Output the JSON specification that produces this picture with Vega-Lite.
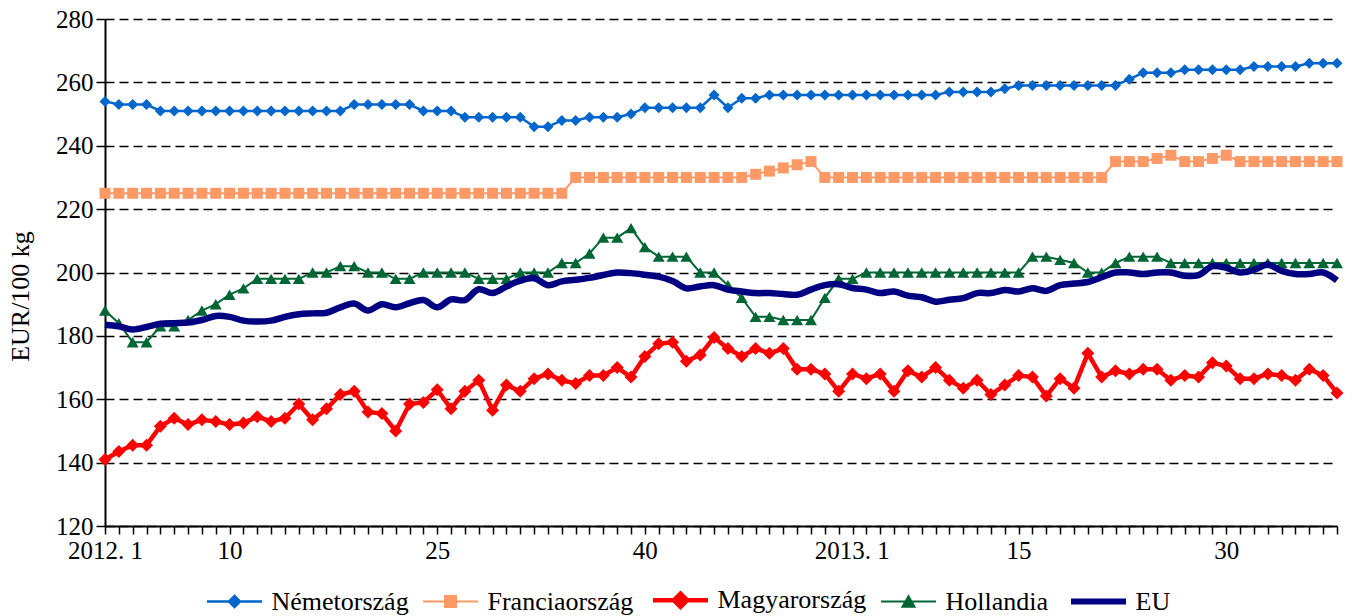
{
  "$schema": "https://vega.github.io/schema/vega-lite/v6.json",
  "autosize": {"type": "none"},
  "padding": {"left": 105, "top": 19, "right": 16, "bottom": 90},
  "width": 1232,
  "height": 507,
  "background": "#ffffff",
  "config": {
    "font": "Liberation Serif",
    "view": {"stroke": null},
    "axis": {
      "labelFont": "Liberation Serif", "labelFontSize": 25, "labelColor": "#000000",
      "titleFont": "Liberation Serif", "titleFontSize": 26, "titleFontWeight": "normal", "titleColor": "#000000",
      "domainColor": "#000000", "tickColor": "#000000"
    },
    "axisX": {"labelFont": "Liberation Serif", "labelFontSize": 25},
    "axisY": {
      "labelFont": "Liberation Serif", "labelFontSize": 25,
      "tickCount": 8, "grid": true, "gridColor": "#000000", "gridDash": [9, 5], "gridWidth": 1.5,
      "domainWidth": 2, "tickSize": 9, "tickWidth": 1.5, "labelPadding": 3, "titlePadding": 22
    }
  },
  "data": {"values": [
    {"i":0,"de":254,"fr":225,"hu":141,"nl":188,"eu":183.5},
    {"i":1,"de":253,"fr":225,"hu":143.5,"nl":184,"eu":183},
    {"i":2,"de":253,"fr":225,"hu":145.5,"nl":178,"eu":182},
    {"i":3,"de":253,"fr":225,"hu":145.5,"nl":178,"eu":182.8},
    {"i":4,"de":251,"fr":225,"hu":151.5,"nl":183,"eu":183.8},
    {"i":5,"de":251,"fr":225,"hu":154,"nl":183,"eu":184},
    {"i":6,"de":251,"fr":225,"hu":152,"nl":185,"eu":184.2},
    {"i":7,"de":251,"fr":225,"hu":153.5,"nl":188,"eu":185},
    {"i":8,"de":251,"fr":225,"hu":153,"nl":190,"eu":186.3},
    {"i":9,"de":251,"fr":225,"hu":152,"nl":193,"eu":186},
    {"i":10,"de":251,"fr":225,"hu":152.5,"nl":195,"eu":184.8},
    {"i":11,"de":251,"fr":225,"hu":154.5,"nl":198,"eu":184.5},
    {"i":12,"de":251,"fr":225,"hu":153,"nl":198,"eu":184.8},
    {"i":13,"de":251,"fr":225,"hu":154,"nl":198,"eu":186},
    {"i":14,"de":251,"fr":225,"hu":158.5,"nl":198,"eu":186.8},
    {"i":15,"de":251,"fr":225,"hu":153.5,"nl":200,"eu":187.1},
    {"i":16,"de":251,"fr":225,"hu":157,"nl":200,"eu":187.3},
    {"i":17,"de":251,"fr":225,"hu":161.5,"nl":202,"eu":189},
    {"i":18,"de":253,"fr":225,"hu":162.5,"nl":202,"eu":190.2},
    {"i":19,"de":253,"fr":225,"hu":156,"nl":200,"eu":188},
    {"i":20,"de":253,"fr":225,"hu":155.5,"nl":200,"eu":190},
    {"i":21,"de":253,"fr":225,"hu":150,"nl":198,"eu":189},
    {"i":22,"de":253,"fr":225,"hu":158.5,"nl":198,"eu":190.3},
    {"i":23,"de":251,"fr":225,"hu":159,"nl":200,"eu":191.3},
    {"i":24,"de":251,"fr":225,"hu":163,"nl":200,"eu":189},
    {"i":25,"de":251,"fr":225,"hu":157,"nl":200,"eu":191.5},
    {"i":26,"de":249,"fr":225,"hu":162.5,"nl":200,"eu":191.3},
    {"i":27,"de":249,"fr":225,"hu":166,"nl":198,"eu":194.7},
    {"i":28,"de":249,"fr":225,"hu":156.5,"nl":198,"eu":193.5},
    {"i":29,"de":249,"fr":225,"hu":164.5,"nl":198,"eu":195.6},
    {"i":30,"de":249,"fr":225,"hu":162.5,"nl":200,"eu":197.4},
    {"i":31,"de":246,"fr":225,"hu":166.5,"nl":200,"eu":198.2},
    {"i":32,"de":246,"fr":225,"hu":168,"nl":200,"eu":196},
    {"i":33,"de":248,"fr":225,"hu":166,"nl":203,"eu":197.2},
    {"i":34,"de":248,"fr":230,"hu":165,"nl":203,"eu":197.7},
    {"i":35,"de":249,"fr":230,"hu":167.5,"nl":206,"eu":198.3},
    {"i":36,"de":249,"fr":230,"hu":167.5,"nl":211,"eu":199.2},
    {"i":37,"de":249,"fr":230,"hu":170,"nl":211,"eu":200},
    {"i":38,"de":250,"fr":230,"hu":167,"nl":214,"eu":199.8},
    {"i":39,"de":252,"fr":230,"hu":173.5,"nl":208,"eu":199.3},
    {"i":40,"de":252,"fr":230,"hu":177.5,"nl":205,"eu":198.7},
    {"i":41,"de":252,"fr":230,"hu":178,"nl":205,"eu":197.3},
    {"i":42,"de":252,"fr":230,"hu":172,"nl":205,"eu":195},
    {"i":43,"de":252,"fr":230,"hu":174,"nl":200,"eu":195.6},
    {"i":44,"de":256,"fr":230,"hu":179.5,"nl":200,"eu":196},
    {"i":45,"de":252,"fr":230,"hu":176,"nl":196,"eu":194.6},
    {"i":46,"de":255,"fr":230,"hu":173.5,"nl":192,"eu":194},
    {"i":47,"de":255,"fr":231,"hu":176,"nl":186,"eu":193.5},
    {"i":48,"de":256,"fr":232,"hu":174.5,"nl":186,"eu":193.5},
    {"i":49,"de":256,"fr":233,"hu":176,"nl":185,"eu":193.2},
    {"i":50,"de":256,"fr":234,"hu":169.5,"nl":185,"eu":193},
    {"i":51,"de":256,"fr":235,"hu":169.5,"nl":185,"eu":194.6},
    {"i":52,"de":256,"fr":230,"hu":168,"nl":192,"eu":196},
    {"i":53,"de":256,"fr":230,"hu":162.5,"nl":198,"eu":196.3},
    {"i":54,"de":256,"fr":230,"hu":168,"nl":198,"eu":195.1},
    {"i":55,"de":256,"fr":230,"hu":166.5,"nl":200,"eu":194.6},
    {"i":56,"de":256,"fr":230,"hu":168,"nl":200,"eu":193.5},
    {"i":57,"de":256,"fr":230,"hu":162.5,"nl":200,"eu":194},
    {"i":58,"de":256,"fr":230,"hu":169,"nl":200,"eu":192.7},
    {"i":59,"de":256,"fr":230,"hu":167,"nl":200,"eu":192.2},
    {"i":60,"de":256,"fr":230,"hu":170,"nl":200,"eu":190.8},
    {"i":61,"de":257,"fr":230,"hu":166,"nl":200,"eu":191.4},
    {"i":62,"de":257,"fr":230,"hu":163.5,"nl":200,"eu":191.9},
    {"i":63,"de":257,"fr":230,"hu":166,"nl":200,"eu":193.5},
    {"i":64,"de":257,"fr":230,"hu":161.5,"nl":200,"eu":193.5},
    {"i":65,"de":258,"fr":230,"hu":164.5,"nl":200,"eu":194.5},
    {"i":66,"de":259,"fr":230,"hu":167.5,"nl":200,"eu":194},
    {"i":67,"de":259,"fr":230,"hu":167,"nl":205,"eu":195},
    {"i":68,"de":259,"fr":230,"hu":161,"nl":205,"eu":194.2},
    {"i":69,"de":259,"fr":230,"hu":166.5,"nl":204,"eu":196},
    {"i":70,"de":259,"fr":230,"hu":163.5,"nl":203,"eu":196.5},
    {"i":71,"de":259,"fr":230,"hu":174.5,"nl":200,"eu":197},
    {"i":72,"de":259,"fr":230,"hu":167,"nl":200,"eu":198.5},
    {"i":73,"de":259,"fr":235,"hu":169,"nl":203,"eu":200},
    {"i":74,"de":261,"fr":235,"hu":168,"nl":205,"eu":200},
    {"i":75,"de":263,"fr":235,"hu":169.5,"nl":205,"eu":199.5},
    {"i":76,"de":263,"fr":236,"hu":169.5,"nl":205,"eu":200},
    {"i":77,"de":263,"fr":237,"hu":166,"nl":203,"eu":200},
    {"i":78,"de":264,"fr":235,"hu":167.5,"nl":203,"eu":199},
    {"i":79,"de":264,"fr":235,"hu":167,"nl":203,"eu":199.2},
    {"i":80,"de":264,"fr":236,"hu":171.5,"nl":203,"eu":202},
    {"i":81,"de":264,"fr":237,"hu":170.5,"nl":203,"eu":201.5},
    {"i":82,"de":264,"fr":235,"hu":166.5,"nl":203,"eu":200},
    {"i":83,"de":265,"fr":235,"hu":166.5,"nl":203,"eu":200.8},
    {"i":84,"de":265,"fr":235,"hu":168,"nl":203,"eu":202.5},
    {"i":85,"de":265,"fr":235,"hu":167.5,"nl":203,"eu":200.5},
    {"i":86,"de":265,"fr":235,"hu":166,"nl":203,"eu":199.5},
    {"i":87,"de":266,"fr":235,"hu":169.5,"nl":203,"eu":199.5},
    {"i":88,"de":266,"fr":235,"hu":167.5,"nl":203,"eu":200},
    {"i":89,"de":266,"fr":235,"hu":162,"nl":203,"eu":197.5}
  ]},
  "encoding": {
    "x": {
      "field": "i", "type": "quantitative",
      "scale": {"domain": [0, 89], "nice": false, "zero": false},
      "axis": {
        "title": null, "grid": false,
        "values": [0,1,2,3,4,5,6,7,8,9,10,11,12,13,14,15,16,17,18,19,20,21,22,23,24,25,26,27,28,29,30,31,32,33,34,35,36,37,38,39,40,41,42,43,44,45,46,47,48,49,50,51,52,53,54,55,56,57,58,59,60,61,62,63,64,65,66,67,68,69,70,71,72,73,74,75,76,77,78,79,80,81,82,83,84,85,86,87,88,89],
        "labelExpr": "datum.value==0?'2012. 1':datum.value==9?'10':datum.value==24?'25':datum.value==39?'40':datum.value==52?'2013. 1':datum.value==66?'15':datum.value==81?'30':''",
        "labelOverlap": false, "labelFlush": false, "labelBound": false,
        "labelFont": "Liberation Serif", "labelFontSize": 25, "labelColor": "#000000",
        "labelOffset": {"condition": {"test": "datum.value==52", "value": 27}, "value": 0},
        "domainWidth": 2, "tickSize": 8, "tickWidth": 1.5, "labelPadding": 4
      }
    }
  },
  "layer": [
    {
      "mark": {"type": "line", "strokeWidth": 2.5, "point": {"shape": "diamond", "size": 121, "filled": true}},
      "encoding": {
        "y": {
          "field": "de", "type": "quantitative", "scale": {"domain": [120, 280], "nice": false, "zero": false}, "title": "EUR/100 kg",
          "axis": {"labelFont": "Liberation Serif", "labelFontSize": 25, "labelColor": "#000000", "titleFont": "Liberation Serif", "titleFontSize": 26, "titleY": 277, "titlePadding": 22}
        },
        "color": {
          "datum": "Németország",
          "scale": {"domain": ["Németország", "Franciaország", "Magyarország", "Hollandia", "EU"], "range": ["#0066CC", "#FF9966", "#FF0000", "#006633", "#000080"]},
          "legend": {
            "orient": "none", "legendX": 102, "legendY": 568, "direction": "horizontal", "title": null,
            "symbolSize": 3025, "labelFont": "Liberation Serif", "labelFontSize": 26, "labelColor": "#000000",
            "labelOffset": 24, "symbolOffset": 14.5, "columnPadding": 10, "symbolStrokeWidth": 2,
            "encode": {"symbols": {"update": {
              "shape": {"signal": "datum.value==='Németország'?'M-1,0L1,0M0,-0.2L0.2,0L0,0.2L-0.2,0Z':datum.value==='Franciaország'?'M-1,0L1,0M-0.2,-0.2L0.2,-0.2L0.2,0.2L-0.2,0.2Z':datum.value==='Magyarország'?'M-1,0L1,0M0,-0.24L0.24,0L0,0.24L-0.24,0Z':datum.value==='Hollandia'?'M-1,0L1,0M0,-0.19L0.22,0.19L-0.22,0.19Z':'M-1,0L1,0'"},
              "strokeWidth": {"signal": "datum.value==='EU'?6:datum.value==='Magyarország'?4.5:datum.value==='Németország'?2.5:2"},
              "fill": {"scale": "color", "field": "value"},
              "stroke": {"scale": "color", "field": "value"},
              "opacity": {"value": 1},
              "fillOpacity": {"value": 1},
              "strokeOpacity": {"value": 1}
            }}}
          }
        }
      }
    },
    {
      "mark": {"type": "line", "strokeWidth": 2, "point": {"shape": "square", "size": 121, "filled": true}},
      "encoding": {
        "y": {"field": "fr", "type": "quantitative", "scale": {"domain": [120, 280], "nice": false, "zero": false}, "title": "EUR/100 kg"},
        "color": {"datum": "Franciaország"}
      }
    },
    {
      "mark": {"type": "line", "strokeWidth": 4.5, "point": {"shape": "diamond", "size": 169, "filled": true}},
      "encoding": {
        "y": {"field": "hu", "type": "quantitative", "scale": {"domain": [120, 280], "nice": false, "zero": false}, "title": "EUR/100 kg"},
        "color": {"datum": "Magyarország"}
      }
    },
    {
      "mark": {"type": "line", "strokeWidth": 2, "point": {"shape": "triangle-up", "size": 144, "filled": true}},
      "encoding": {
        "y": {"field": "nl", "type": "quantitative", "scale": {"domain": [120, 280], "nice": false, "zero": false}, "title": "EUR/100 kg"},
        "color": {"datum": "Hollandia"}
      }
    },
    {
      "mark": {"type": "line", "strokeWidth": 6.5, "interpolate": "catmull-rom"},
      "encoding": {
        "y": {"field": "eu", "type": "quantitative", "scale": {"domain": [120, 280], "nice": false, "zero": false}, "title": "EUR/100 kg"},
        "color": {"datum": "EU"}
      }
    }
  ]
}
